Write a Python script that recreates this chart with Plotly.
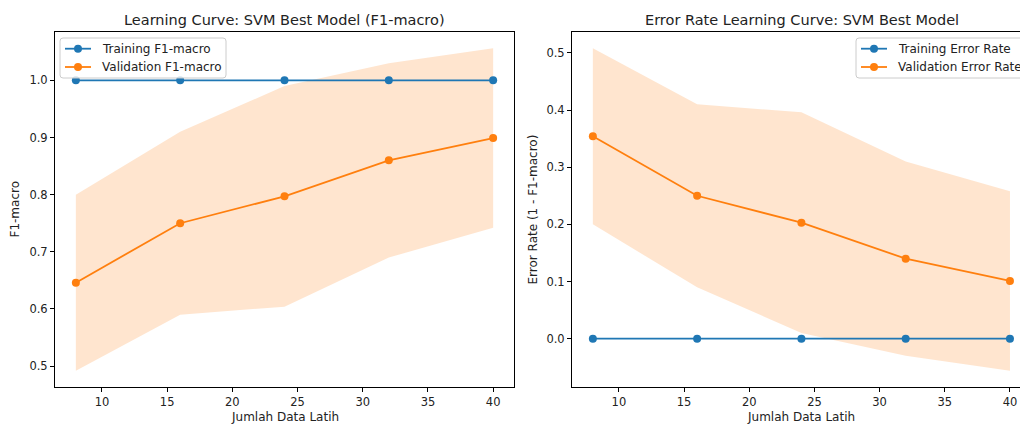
import plotly.graph_objects as go

# ---- data ----
train_sizes = [8, 16, 24, 32, 40]
train_f1_mean = [1.0, 1.0, 1.0, 1.0, 1.0]
train_f1_std = [0.0, 0.0, 0.0, 0.0, 0.0]
val_f1_mean = [0.646, 0.750, 0.797, 0.860, 0.899]
val_f1_std = [0.154, 0.160, 0.193, 0.170, 0.157]

train_err_mean = [1 - v for v in train_f1_mean]
val_err_mean = [1 - v for v in val_f1_mean]

x_ticks = [10, 15, 20, 25, 30, 35, 40]
f1_ticks = [0.5, 0.6, 0.7, 0.8, 0.9, 1.0]
err_ticks = [0.0, 0.1, 0.2, 0.3, 0.4, 0.5]

left_legend_labels = ["Training F1-macro", "Validation F1-macro"]
right_legend_labels = ["Training Error Rate", "Validation Error Rate"]

BLUE = "#1f77b4"
ORANGE = "#ff7f0e"
FILL = "rgba(255,127,14,0.2)"
FONT = "DejaVu Sans"
TEXT = "#222"
W, H = 1020, 426
TITLE_FS = 14.5
LABEL_FS = 12
TICK_FS = 11.5
LEG_FS = 12

fig = go.Figure()


def band(x, mean, std, xa, ya):
    upper = [m + s for m, s in zip(mean, std)]
    lower = [m - s for m, s in zip(mean, std)]
    fig.add_trace(go.Scatter(
        x=list(x) + list(x)[::-1], y=upper + lower[::-1],
        fill="toself", fillcolor=FILL, line=dict(width=0),
        mode="lines", showlegend=False, hoverinfo="skip",
        xaxis=xa, yaxis=ya))


def curve(x, y, name, color, xa, ya):
    fig.add_trace(go.Scatter(x=x, y=y, mode="lines+markers", name=name,
                             line=dict(color=color, width=1.8),
                             marker=dict(size=8, color=color),
                             xaxis=xa, yaxis=ya, showlegend=False))


# left panel
band(train_sizes, val_f1_mean, val_f1_std, "x", "y")
curve(train_sizes, train_f1_mean, left_legend_labels[0], BLUE, "x", "y")
curve(train_sizes, val_f1_mean, left_legend_labels[1], ORANGE, "x", "y")

# right panel
band(train_sizes, val_err_mean, val_f1_std, "x2", "y2")
curve(train_sizes, train_err_mean, right_legend_labels[0], BLUE, "x2", "y2")
curve(train_sizes, val_err_mean, right_legend_labels[1], ORANGE, "x2", "y2")


def px(v):
    return v / W


def py(v):
    return 1 - v / H


def ann(text, x, y, size, angle=0, xanchor="center"):
    return dict(text=text, x=px(x), y=py(y), textangle=angle,
                xref="paper", yref="paper", showarrow=False,
                xanchor=xanchor, yanchor="middle",
                font=dict(family=FONT, size=size, color=TEXT))


shapes = []
annotations = [
    ann("Learning Curve: SVM Best Model (F1-macro)", 284.5, 20, TITLE_FS),
    ann("Error Rate Learning Curve: SVM Best Model", 801.7, 20, TITLE_FS),
    ann("Jumlah Data Latih", 284.5, 416.5, LABEL_FS),
    ann("Jumlah Data Latih", 801, 416.5, LABEL_FS),
    ann("F1-macro", 14, 209.5, LABEL_FS, -90),
    ann("Error Rate (1 - F1-macro)", 532, 209.5, LABEL_FS, -90),
]


def legend_box(x0, y0, x1, y1, labels, r=3):
    # rounded frame, semi-transparent white like matplotlib's legend
    path = (f"M {px(x0 + r)},{py(y0)} L {px(x1 - r)},{py(y0)} "
            f"Q {px(x1)},{py(y0)} {px(x1)},{py(y0 + r)} "
            f"L {px(x1)},{py(y1 - r)} Q {px(x1)},{py(y1)} {px(x1 - r)},{py(y1)} "
            f"L {px(x0 + r)},{py(y1)} Q {px(x0)},{py(y1)} {px(x0)},{py(y1 - r)} "
            f"L {px(x0)},{py(y0 + r)} Q {px(x0)},{py(y0)} {px(x0 + r)},{py(y0)} Z")
    shapes.append(dict(type="path", path=path, xref="paper", yref="paper",
                       fillcolor="rgba(255,255,255,0.8)",
                       line=dict(color="#cccccc", width=1), layer="above"))
    rows = [y0 + 10.7, y0 + 29]
    for label, color, ry in zip(labels, [BLUE, ORANGE], rows):
        lx0 = x0 + 5
        lx1 = x0 + 31
        shapes.append(dict(type="line", x0=px(lx0), x1=px(lx1), y0=py(ry), y1=py(ry),
                           xref="paper", yref="paper", layer="above",
                           line=dict(color=color, width=1.8)))
        shapes.append(dict(type="circle", xref="paper", yref="paper",
                           xsizemode="pixel", ysizemode="pixel",
                           xanchor=px((lx0 + lx1) / 2), yanchor=py(ry),
                           x0=-4, x1=4, y0=-4, y1=4, layer="above",
                           fillcolor=color, line=dict(width=0)))
        annotations.append(ann(label, x0 + 40, ry, LEG_FS, xanchor="left"))


legend_box(60, 38, 226, 78, left_legend_labels)
legend_box(856, 38, 1040, 78, right_legend_labels)

y_top = py(32)
y_bot = py(387)

axis_common = dict(showline=True, linecolor="black", linewidth=1, ticks="outside",
                   ticklen=4, tickwidth=1, tickcolor="black", showgrid=False,
                   zeroline=False, tickfont=dict(family=FONT, size=TICK_FS, color=TEXT))

fig.update_layout(
    width=W, height=H,
    margin=dict(l=0, r=0, t=0, b=0, autoexpand=False),
    paper_bgcolor="white", plot_bgcolor="white",
    font=dict(family=FONT, size=LABEL_FS, color=TEXT),
    showlegend=False,
    xaxis=dict(domain=[px(55), px(514)], range=[6.4, 41.6], tickvals=x_ticks,
               anchor="y", mirror=True, **axis_common),
    yaxis=dict(domain=[y_bot, y_top], range=[0.4635, 1.0845], tickvals=f1_ticks,
               tickformat=".1f", anchor="x", mirror=True, **axis_common),
    xaxis2=dict(domain=[px(572), 1.0], range=[6.4, 40.77], tickvals=x_ticks,
                anchor="y2", mirror=True, **axis_common),
    yaxis2=dict(domain=[y_bot, y_top], range=[-0.0845, 0.5365], tickvals=err_ticks,
                tickformat=".1f", anchor="x2", mirror=False, **axis_common),
    shapes=shapes,
    annotations=annotations,
)

fig.write_html(
    "out.html",
    config={"displayModeBar": False},
    post_script="document.body.style.margin='0';document.body.style.overflow='hidden';",
)
